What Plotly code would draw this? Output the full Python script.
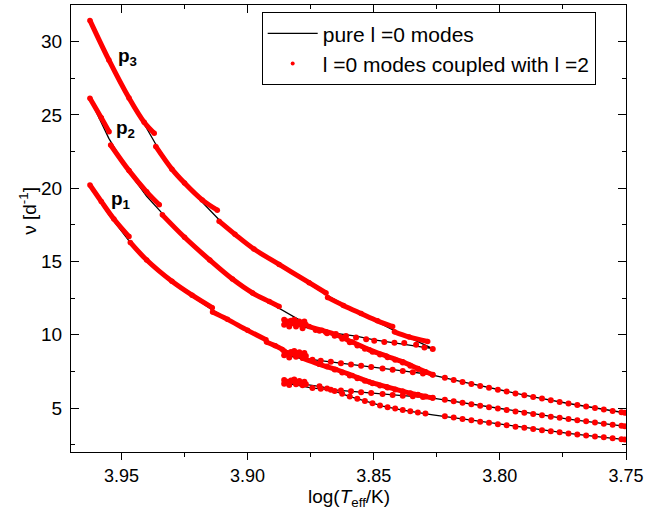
import plotly.graph_objects as go

# ---------------- data ----------------
# pure l=0 tracks (black): main sequence -> hook -> post-MS
p1_track_x = [3.9625, 3.955, 3.947, 3.94, 3.93, 3.922, 3.914, 3.903, 3.8927, 3.8862, 3.8756, 3.865, 3.8517, 3.8385, 3.8266,
              3.8385, 3.8517, 3.865, 3.8743, 3.8862,
              3.88, 3.8703, 3.8597, 3.8464, 3.8385, 3.8266, 3.8148, 3.8008, 3.7868, 3.7728, 3.7588, 3.75]
p1_track_y = [20.1, 18.2, 16.4, 15.0, 13.55, 12.6, 11.7, 10.6, 9.62, 9.02, 8.3, 7.65, 6.8, 6.15, 5.7,
              5.84, 6.03, 6.2, 6.36, 6.75,
              6.68, 6.45, 5.8, 5.13, 4.86, 4.54, 4.26, 3.9, 3.57, 3.27, 3.0, 2.84]
p2_track_x = [3.9625, 3.955, 3.947, 3.94, 3.935, 3.93, 3.922, 3.914, 3.906, 3.8975, 3.8914, 3.8862, 3.8756, 3.865, 3.8517, 3.8385, 3.8266,
              3.8385, 3.8517, 3.865, 3.8743, 3.8862,
              3.878, 3.8705, 3.865, 3.8585, 3.8517, 3.8435, 3.8385, 3.8266, 3.8148, 3.8008, 3.7868, 3.7728, 3.7588, 3.75]
p2_track_y = [26.1, 23.4, 21.1, 19.45, 18.5, 17.55, 16.15, 14.95, 13.8, 12.8, 12.2, 11.7, 10.62, 9.95, 8.95, 8.15, 7.27,
              7.53, 7.83, 8.1, 8.3, 8.65,
              8.35, 7.95, 7.6, 7.15, 6.75, 6.35, 6.12, 5.68, 5.36, 4.96, 4.59, 4.25, 3.93, 3.75]
p3_track_x = [3.9625, 3.955, 3.947, 3.9364, 3.93, 3.925, 3.9113, 3.9007, 3.8875, 3.8756, 3.8676, 3.8557, 3.8418, 3.8266,
              3.8332, 3.8418, 3.8498, 3.857, 3.865, 3.8756, 3.8862,
              3.8756, 3.8705, 3.865, 3.8585, 3.8517, 3.845, 3.8385, 3.8325, 3.8266, 3.8148, 3.8008, 3.7868, 3.7728, 3.7588, 3.75]
p3_track_y = [31.4, 28.8, 26.2, 23.0, 21.35, 20.3, 17.85, 16.25, 14.77, 13.45, 12.6, 11.5, 10.28, 9.05,
              9.22, 9.45, 9.65, 9.9, 10.1, 10.45, 10.8,
              10.45, 10.22, 9.9, 9.42, 8.92, 8.5, 8.1, 7.67, 7.25, 6.78, 6.25, 5.76, 5.31, 4.9, 4.66]

# coupled modes (red): densely sampled pieces
dense_pieces = [
    ([3.9625, 3.958, 3.953, 3.947], [20.22, 19.1, 17.9, 16.7]),
    ([3.9465, 3.94, 3.93, 3.922, 3.914], [16.3, 15.1, 13.65, 12.7, 11.85]),
    ([3.9139, 3.908, 3.9, 3.8927], [11.55, 11.05, 10.3, 9.66]),
    ([3.8925, 3.889, 3.8862], [9.5, 9.25, 9.0]),
    ([3.8782, 3.8717, 3.865, 3.8585, 3.8517, 3.845, 3.8385, 3.8325, 3.8266], [8.41, 8.0, 7.63, 7.22, 6.78, 6.45, 6.14, 5.9, 5.68]),
    ([3.9625, 3.958, 3.9549], [26.13, 24.8, 23.86]),
    ([3.9543, 3.947, 3.94, 3.935], [22.95, 21.2, 19.75, 18.87]),
    ([3.9338, 3.925, 3.915, 3.906, 3.898, 3.8914, 3.8875], [18.18, 16.65, 15.1, 13.8, 12.85, 12.27, 11.93]),
    ([3.8756, 3.8705, 3.865, 3.8585, 3.8517, 3.845, 3.8385, 3.8325, 3.8266], [10.56, 10.3, 10.0, 9.5, 8.97, 8.55, 8.15, 7.7, 7.27]),
    ([3.9625, 3.955, 3.947, 3.941, 3.937], [31.45, 28.75, 26.15, 24.5, 23.75]),
    ([3.9364, 3.93, 3.925, 3.918, 3.912], [22.85, 21.3, 20.35, 19.2, 18.5]),
    ([3.9113, 3.905, 3.8975, 3.8875, 3.8756, 3.8689], [17.75, 16.85, 15.85, 14.8, 13.55, 12.85]),
    ([3.8683, 3.862, 3.855, 3.8485, 3.8425], [12.55, 12.0, 11.45, 10.95, 10.56]),
    ([3.8418, 3.836, 3.8286], [10.2, 9.85, 9.54]),
]

# coupled modes (red): turning-point clumps near log Teff = 3.886
clump_x = [3.8855, 3.8855, 3.8842, 3.8835, 3.8822, 3.8815, 3.8808, 3.8795, 3.8789, 3.8775, 3.8769, 3.8782, 3.8848, 3.8828, 3.8802]
clump_p3_y = [11.02, 10.68, 10.9, 10.56, 10.79, 11.02, 10.56, 10.9, 10.68, 10.9, 10.68, 10.45, 10.8, 10.95, 10.75]
clump_p2_y = [8.88, 8.6, 8.75, 8.45, 8.7, 8.9, 8.5, 8.8, 8.6, 8.75, 8.55, 8.42, 8.7, 8.82, 8.65]
clump_p1_y = [6.92, 6.65, 6.8, 6.58, 6.85, 6.95, 6.62, 6.85, 6.7, 6.8, 6.62, 6.55, 6.75, 6.88, 6.72]

# coupled modes (red): hook (sparse dots)
hook_p3_x = [3.8266, 3.8299, 3.8332, 3.8379, 3.8418, 3.8458, 3.8498, 3.853, 3.857, 3.861, 3.865, 3.869, 3.873]
hook_p3_y = [9.02, 9.13, 9.31, 9.43, 9.45, 9.5, 9.59, 9.7, 9.82, 9.92, 10.05, 10.18, 10.32]
hook_x = [3.8266, 3.8305, 3.8345, 3.8385, 3.8425, 3.8465, 3.851, 3.855, 3.859, 3.863, 3.867, 3.871, 3.8743]
hook_p2_y = [7.27, 7.36, 7.44, 7.53, 7.62, 7.7, 7.8, 7.88, 7.97, 8.06, 8.15, 8.23, 8.3]
hook_p1_y = [5.7, 5.75, 5.8, 5.84, 5.89, 5.95, 6.02, 6.08, 6.14, 6.19, 6.25, 6.31, 6.36]

# coupled modes (red): post main-sequence dots
post_x = [3.8715, 3.8685, 3.8655, 3.8625, 3.8595, 3.8565, 3.8535, 3.8505, 3.8475, 3.8445, 3.8415, 3.8385, 3.8355, 3.8325, 3.8295,
          3.8218, 3.8183, 3.8148, 3.8113, 3.8078, 3.8043, 3.8008, 3.7973, 3.7938, 3.7903, 3.7868, 3.7833, 3.7798, 3.7763,
          3.7728, 3.7693, 3.7658, 3.7623, 3.7588, 3.7553, 3.7518, 3.7505]
post_p3_y = [10.27, 10.1, 9.93, 9.72, 9.49, 9.27, 9.05, 8.84, 8.66, 8.47, 8.29, 8.1, 7.88, 7.67, 7.46,
             7.06, 6.92, 6.78, 6.64, 6.51, 6.38, 6.25, 6.13, 6.0, 5.88, 5.76, 5.65, 5.53, 5.42,
             5.31, 5.2, 5.1, 5.0, 4.9, 4.8, 4.71, 4.67]
post_p2_y = [8.0, 7.83, 7.63, 7.43, 7.22, 7.03, 6.86, 6.69, 6.54, 6.4, 6.26, 6.12, 6.01, 5.9, 5.79,
             5.57, 5.47, 5.36, 5.26, 5.16, 5.06, 4.96, 4.86, 4.77, 4.68, 4.59, 4.5, 4.41, 4.33,
             4.25, 4.17, 4.09, 4.01, 3.93, 3.86, 3.79, 3.76]
post_p1_y = [6.48, 6.34, 6.16, 5.97, 5.79, 5.63, 5.48, 5.33, 5.18, 5.06, 4.96, 4.86, 4.78, 4.7, 4.62,
             4.44, 4.35, 4.26, 4.16, 4.07, 3.99, 3.9, 3.82, 3.73, 3.65, 3.57, 3.49, 3.42, 3.34,
             3.27, 3.2, 3.13, 3.06, 3.0, 2.93, 2.87, 2.85]

mode_labels = ["p<sub>1</sub>", "p<sub>2</sub>", "p<sub>3</sub>"]
label_x = [3.9549, 3.9529, 3.9523]
label_y = [19.2, 24.05, 28.95]

x_range = [3.97, 3.75]
y_range = [2.0, 32.5]
x_ticks = [3.95, 3.90, 3.85, 3.80, 3.75]
y_ticks = [5, 10, 15, 20, 25, 30]

# ---------------- figure ----------------
FONT = "Liberation Sans, Arial, sans-serif"
RED = "#ff0000"
fig = go.Figure()

for i, (tx, ty) in enumerate([(p1_track_x, p1_track_y), (p2_track_x, p2_track_y), (p3_track_x, p3_track_y)]):
    fig.add_trace(go.Scatter(x=tx, y=ty, mode="lines", line=dict(color="black", width=1.3),
                             name="pure l =0 modes", legendgroup="pure", showlegend=(i == 0),
                             hoverinfo="skip"))

for px, py in dense_pieces:
    fig.add_trace(go.Scatter(x=px, y=py, mode="lines+markers", line=dict(color=RED, width=5, shape="spline"),
                             marker=dict(color=RED, size=5.5), showlegend=False, hoverinfo="skip"))

for dx, dy in [(clump_x, clump_p3_y), (clump_x, clump_p2_y), (clump_x, clump_p1_y),
               (hook_p3_x, hook_p3_y), (hook_x, hook_p2_y), (hook_x, hook_p1_y),
               (post_x, post_p3_y), (post_x, post_p2_y), (post_x, post_p1_y)]:
    fig.add_trace(go.Scatter(x=dx, y=dy, mode="markers", marker=dict(color=RED, size=6),
                             showlegend=False, hoverinfo="skip"))

# legend entry for the coupled modes
fig.add_trace(go.Scatter(x=[None], y=[None], mode="markers", marker=dict(color=RED, size=4),
                         name="l =0 modes coupled with l =2"))
# dummy trace to create the top axis
fig.add_trace(go.Scatter(x=[None], y=[None], xaxis="x2", showlegend=False, hoverinfo="skip"))

for txt, lx, ly in zip(mode_labels, label_x, label_y):
    fig.add_annotation(x=lx, y=ly, text="<b>" + txt + "</b>", showarrow=False, xanchor="left", yanchor="middle",
                       font=dict(family=FONT, size=19, color="black"))

fig.add_annotation(xref="paper", yref="paper", x=0.5, y=-0.072, xanchor="center", yanchor="top",
                   text="log(<i>T</i><sub>eff</sub>/K)", showarrow=False,
                   font=dict(family=FONT, size=19, color="black"))
fig.add_annotation(xref="paper", yref="paper", x=-0.079, y=0.54, xanchor="center", yanchor="middle",
                   textangle=-90, text="ν [d<sup>-1</sup>]", showarrow=False,
                   font=dict(family=FONT, size=19, color="black"))

axis_common = dict(showline=True, linecolor="black", linewidth=1.3, showgrid=False, zeroline=False)
fig.update_layout(
    width=670, height=514,
    margin=dict(l=71, r=44, t=5, b=62),
    paper_bgcolor="white", plot_bgcolor="white",
    font=dict(family=FONT, color="black"),
    xaxis=dict(range=x_range, tickvals=x_ticks, tickformat=".2f", ticks="outside", ticklen=7, tickwidth=1.3,
               tickcolor="black", tickfont=dict(size=18), ticklabelstandoff=0,
               minor=dict(dtick=0.025, tick0=3.75, ticks="outside", ticklen=4, tickwidth=1.3, tickcolor="black"),
               **axis_common),
    xaxis2=dict(range=x_range, overlaying="x", side="top", tickvals=x_ticks, showticklabels=False,
                ticks="inside", ticklen=8, tickwidth=1.3, tickcolor="black",
                minor=dict(dtick=0.025, tick0=3.75, ticks="inside", ticklen=4, tickwidth=1.3, tickcolor="black"),
                **axis_common),
    yaxis=dict(range=y_range, tickvals=y_ticks, ticks="inside", ticklen=8, tickwidth=1.3, tickcolor="black",
               mirror="ticks", tickfont=dict(size=19), ticklabelstandoff=4,
               minor=dict(dtick=2.5, tick0=0, ticks="inside", ticklen=4, tickwidth=1.3, tickcolor="black"),
               **axis_common),
    legend=dict(x=0.3436, y=0.984, xanchor="left", yanchor="top", bgcolor="white",
                bordercolor="black", borderwidth=1, font=dict(family=FONT, size=21, color="black"),
                itemwidth=50, tracegroupgap=0),
    showlegend=True,
)

# remove the default page margin so the 670x514 figure fills the window exactly
fig.write_html("out.html", config={"displayModeBar": False},
               post_script="document.body.style.margin='0px';")
